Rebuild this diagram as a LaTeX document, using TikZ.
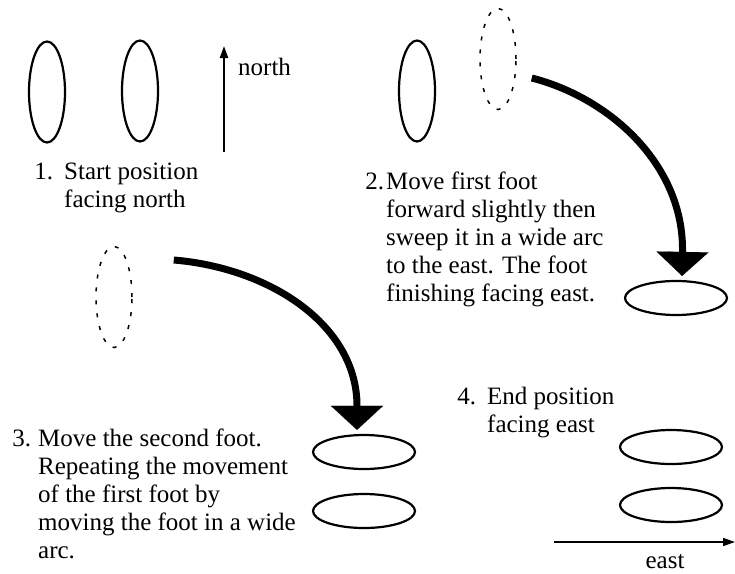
\documentclass[tikz,border=0pt]{standalone}
\usepackage{fontspec}
\setmainfont{Liberation Serif}
\usetikzlibrary{shapes.geometric,arrows.meta,positioning}

\begin{document}
\begin{tikzpicture}[
    x=1pt, y=-1pt,
    foot/.style={ellipse, draw, line width=2.2pt, inner sep=0pt, minimum width=36pt, minimum height=101pt},
    footeast/.style={ellipse, draw, line width=2.2pt, inner sep=0pt, minimum width=102pt, minimum height=34pt},
    ghost/.style={foot, line width=1.5pt, dash pattern=on 4pt off 9pt},
    caption/.style={anchor=base west, inner sep=0pt, align=left, font=\fontsize{25}{28}\selectfont},
    dirtext/.style={anchor=base west, inner sep=0pt, font=\fontsize{25}{28}\selectfont},
    sweep/.style={line width=7pt, shorten >=4pt, -{Triangle[width=52pt,length=24pt,line width=0.1pt]}},
    compass/.style={line width=2pt, -{Triangle[width=8pt,length=12pt]}}
]
\useasboundingbox (0,0) rectangle (735,573);

% Step 1 (captions are placed by the baseline of their last line)
\node[foot] (l1) at (47,92) {};
\node[foot] (r1) at (140,91) {};
\coordinate (n0) at (224,152);
\coordinate (n1) at (224,46);
\draw[compass] (n0) -- (n1);
\node[dirtext] (north) at (238,75) {north};
\node[caption] (cap1) at (64,207) {\llap{1.\hspace{11pt}}Start position\\facing north};

% Step 2
\node[foot] (l2) at (417,91) {};
\node[ghost] (g2) at (498,59) {};
\node[footeast] (e2) at (676,298) {};
\draw[sweep] ([xshift=15pt,yshift=-19pt]g2.east) .. controls (610,98) and (684,165) .. ([xshift=6pt]e2.north);
\node[caption] (cap2) at (386,301) {\llap{2.\hspace{2pt}}Move first foot\\forward slightly then\\sweep it in a wide arc\\to the east. The foot\\finishing facing east.};

% Step 3
\node[ghost] (g3) at (114,297) {};
\node[footeast] (e3a) at (364,452) {};
\node[footeast] (e3b) at (364,511) {};
\draw[sweep] ([xshift=41pt,yshift=37pt]g3.east) .. controls (270,268) and (357,325) .. ([xshift=-7pt]e3a.north);
\node[caption] (cap3) at (38,558) {\llap{3.\hspace{7pt}}Move the second foot.\\Repeating the movement\\of the first foot by\\moving the foot in a wide\\arc.};

% Step 4
\node[footeast] (e4a) at (671,447) {};
\node[footeast] (e4b) at (671,505) {};
\coordinate (w0) at (554,542);
\coordinate (w1) at (735,542);
\draw[compass, line width=1.5pt] (w0) -- (w1);
\node[dirtext, anchor=base] (east) at (665,568) {east};
\node[caption] (cap4) at (487,432) {\llap{4.\hspace{11pt}}End position\\facing east};

\end{tikzpicture}
\end{document}
